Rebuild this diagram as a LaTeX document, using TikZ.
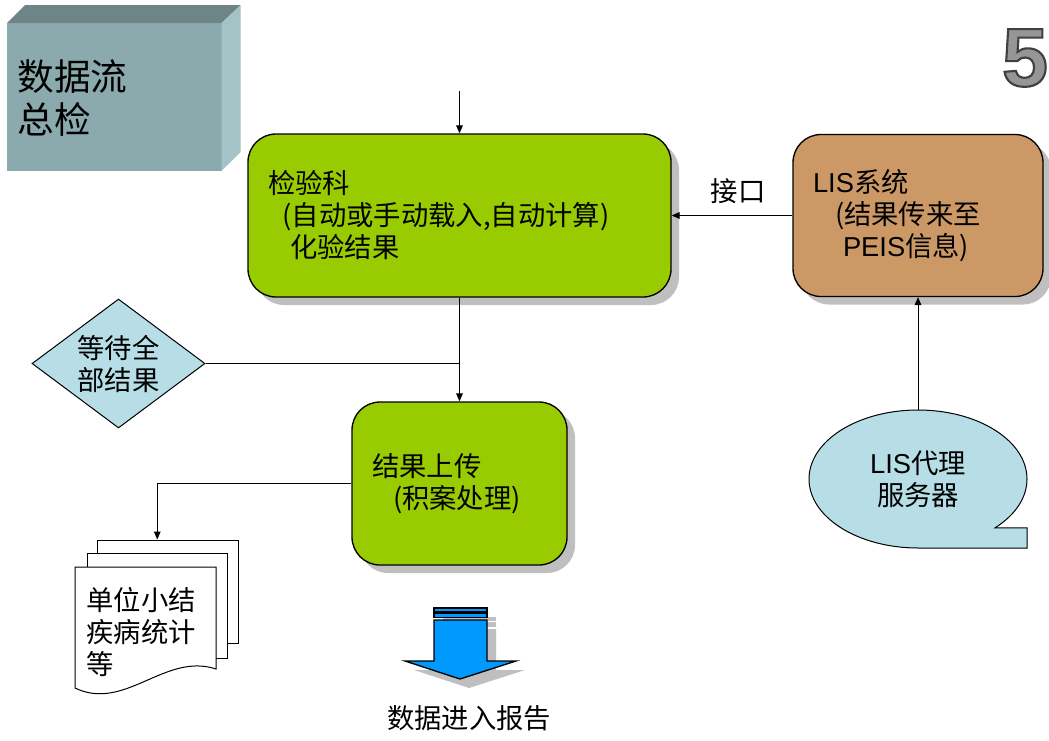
\documentclass[tikz,border=0pt]{standalone}
\usepackage{fontspec}
\setmainfont{Noto Sans CJK SC}
\newfontfamily\arialfont{Liberation Sans}
\usetikzlibrary{shapes.geometric,shadows,arrows.meta,calc}

\definecolor{boxgreen}{RGB}{153,204,0}
\definecolor{lisbrown}{RGB}{204,153,102}
\definecolor{lightcyan}{RGB}{183,222,230}
\definecolor{slatefront}{RGB}{139,170,173}
\definecolor{slatetop}{RGB}{110,132,134}
\definecolor{slateside}{RGB}{163,195,198}
\definecolor{shadowgray}{RGB}{191,191,191}
\definecolor{arrowblue}{RGB}{0,153,255}
\definecolor{digitgray}{RGB}{150,150,150}

\newcommand{\lat}[1]{{\arialfont #1}}
\newcommand{\outlined}[1]{{\color{digitgray}\special{pdf:literal direct 2 Tr 1.6 w 0.25 G}#1\special{pdf:literal direct 0 Tr}}}

\tikzset{every picture/.style={line width=0.75pt}}
\tikzset{
  txt/.style={font=\fontsize{20.5pt}{24pt}\selectfont},
  procbox/.style={txt, draw, line width=1pt, rounded corners=21pt, align=left, inner sep=0pt,
    minimum height=122.25pt,
    drop shadow={shadow xshift=6pt, shadow yshift=-6pt, fill=shadowgray, opacity=1}},
  conn/.style={-{Triangle[length=6pt,width=5pt]}},
}

\begin{document}
\begin{tikzpicture}[x=0.75pt,y=0.75pt,yscale=-1,xscale=1]
\fill[white] (0,0) rectangle (1049,740);

%Shape: Cube [front, top, side]
\fill[slatefront] (7,23) -- (221.7,23) -- (221.7,170.7) -- (7,170.7) -- cycle;
\fill[slatetop] (7,23) -- (25,5) -- (240.7,5) -- (221.7,23) -- cycle;
\fill[slateside] (221.7,23) -- (240.7,5) -- (240.7,152) -- (221.7,170.7) -- cycle;
% Text Node
\node[font=\fontsize{27.5pt}{32.25pt}\selectfont, align=left, anchor=west, inner sep=0pt] (title) at (17,98.5) {数据流\\总检};
% Text Node
\node[font=\arialfont\bfseries\fontsize{62pt}{62pt}\selectfont, inner sep=0pt] (pagenum) at (1025,58) {\outlined{5}};

%Process: lab
\node[procbox, fill=boxgreen, minimum width=317.25pt, text width=287.25pt] (lab) at (459.5,215.5)
  {检验科\\\hspace*{11pt}(自动或手动载入,自动计算)\\\hspace*{16.5pt}化验结果};
%Process: lis
\node[procbox, fill=lisbrown, minimum width=187.5pt, minimum height=121.5pt, text width=157.5pt] (lis) at (918,215.5)
  {\lat{LIS}系统\\\hspace*{16.5pt}(结果传来至\\\hspace*{22.5pt}\lat{PEIS}信息)};
%Process: upload
\node[procbox, fill=boxgreen, minimum width=161.25pt, text width=131.25pt] (upload) at (459.5,483.5)
  {结果上传\\\hspace*{15.75pt}(积案处理)};
%Decision: wait
\node[txt, diamond, draw, fill=lightcyan, aspect=1.34, inner sep=0pt, minimum width=129.75pt, minimum height=96.75pt, align=center] (wait) at (118.5,363.5) {等待全\\部结果};

%Shape: Sequential Storage
\coordinate (pc) at (918,479);
\filldraw[fill=lightcyan] ($(pc)+(45:109 and 69)$) arc[start angle=45, end angle=-270, x radius=109, y radius=69] -- ++(109,0) -- ++(0,-20.21) -- cycle;
\node[txt, ellipse, minimum width=163.5pt, minimum height=103.5pt, inner sep=0pt, align=center] (proxy) at (pc) {\lat{LIS}代理\\服务器};

%Shape: Multidocument
\node[draw, fill=white, minimum width=106.1pt, minimum height=77.25pt] (stack) at (168.25,591.5) {};
\node[draw, fill=white, minimum width=105pt, minimum height=78.75pt] (stackmid) at (157,605.5) {};
\filldraw[fill=white] (75,567) -- (216,567) -- (216,669) .. controls (165,652) and (125,712) .. (75,688) -- cycle;
\node[txt, align=left, anchor=west, inner sep=0pt] (report) at (86,632) {单位小结\\疾病统计\\等};

%Shape: Striped Down Arrow
\begin{scope}[shift={(9,9)}]
\fill[shadowgray] (434,608) rectangle (487,611.5);
\fill[shadowgray] (434,613) rectangle (487,617.5);
\fill[shadowgray] (434,620) -- (487,620) -- (487,661) -- (516,661) -- (460,679) -- (405,661) -- (434,661) -- cycle;
\end{scope}
\filldraw[fill=arrowblue, line width=1pt] (434,608) rectangle (487,611.5);
\filldraw[fill=arrowblue, line width=1pt] (434,613) rectangle (487,617.5);
\filldraw[fill=arrowblue, line width=1pt] (434,620) -- (487,620) -- (487,661) -- (516,661) -- (460,679) -- (405,661) -- (434,661) -- cycle;
% Text Node
\node[txt] (entry) at (469,718) {数据进入报告};

%Connectors
\coordinate (feed) at (459.5,91);
\draw[conn] (feed) -- (lab.north);
\draw[conn] (lis.west) -- (lab.east);
\node[txt] (iface) at (738,191) {接口};
\draw[conn] (proxy.north) -- (lis.south);
\draw[conn] (lab.south) -- (upload.north);
\draw (wait.east) -- (wait.east -| lab.south);
\draw[conn] (upload.west) -| ($(stack.north)+(-11,0)$);

\end{tikzpicture}
\end{document}
